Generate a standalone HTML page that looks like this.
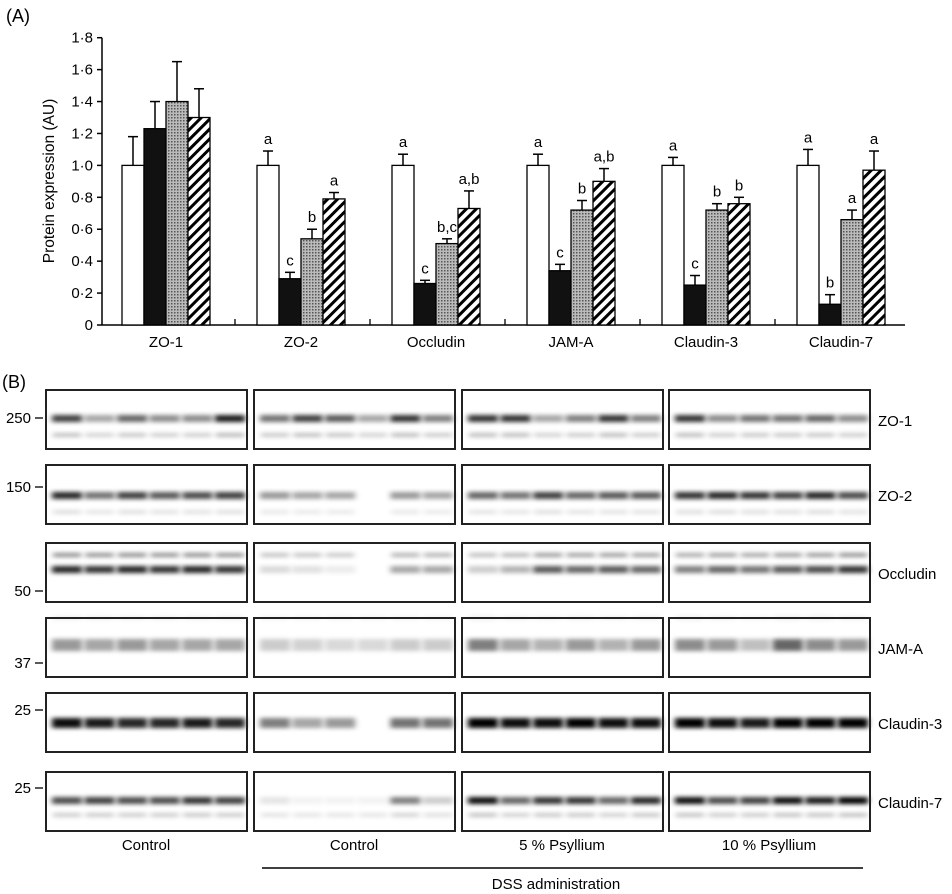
<!DOCTYPE html>
<html><head><meta charset="utf-8"><style>
body{margin:0;background:#fff;}
svg{display:block;font-family:"Liberation Sans",Arial,sans-serif;}
</style></head><body>
<svg id="fig" width="952" height="894" viewBox="0 0 952 894">
<defs>
<pattern id="dots" width="3" height="3" patternUnits="userSpaceOnUse"><rect width="3" height="3" fill="#bbb"/><rect width="1.5" height="1.5" fill="#555"/></pattern>
<pattern id="hatch" width="7" height="7" patternUnits="userSpaceOnUse" patternTransform="rotate(45)"><rect width="7" height="7" fill="#fff"/><rect width="3" height="7" fill="#000"/></pattern>
<filter id="blur" x="-30%" y="-150%" width="160%" height="400%"><feGaussianBlur stdDeviation="3 2.2"/></filter>
</defs>
<g id="chartA"></g>
<g id="blots"></g>
</svg>
<script>
const categories=["ZO-1","ZO-2","Occludin","JAM-A","Claudin-3","Claudin-7"];
const controlVals=[1.0,1.0,1.0,1.0,1.0,1.0];
const controlErr=[0.18,0.09,0.07,0.07,0.05,0.10];
const dssVals=[1.23,0.29,0.26,0.34,0.25,0.13];
const dssErr=[0.17,0.04,0.02,0.04,0.06,0.06];
const psy5Vals=[1.40,0.54,0.51,0.72,0.72,0.66];
const psy5Err=[0.25,0.06,0.03,0.06,0.04,0.06];
const psy10Vals=[1.30,0.79,0.73,0.90,0.76,0.97];
const psy10Err=[0.18,0.04,0.11,0.08,0.04,0.12];
const letters=[["","","",""],["a","c","b","a"],["a","c","b,c","a,b"],["a","c","b","a,b"],["a","c","b","b"],["a","b","a","a"]];
const yTicks=[0,0.2,0.4,0.6,0.8,1.0,1.2,1.4,1.6,1.8];
const yTickLabels=["0","0·2","0·4","0·6","0·8","1·0","1·2","1·4","1·6","1·8"];

const NS="http://www.w3.org/2000/svg";
function mk(tag,attrs,parent,text){const e=document.createElementNS(NS,tag);for(const k in attrs)e.setAttribute(k,attrs[k]);if(text!==undefined)e.textContent=text;parent.appendChild(e);return e;}
const y0=325,pxPer=(325-37.7)/1.8;
function yScale(v){return y0-v*pxPer;}
const bw=22,groupStep=135,firstCenter=133;
function xBar(g,s){return firstCenter-bw/2+g*groupStep+s*bw;}

const A=document.getElementById('chartA');
let t=mk('text',{x:6,y:22,'font-size':18},A,'(A)');


let ax=mk('line',{x1:102,y1:y0,x2:905,y2:y0,stroke:'#000','stroke-width':1.5},A);


let ay=mk('line',{x1:102,y1:y0,x2:102,y2:yScale(1.8),stroke:'#000','stroke-width':1.5},A);


yTicks.forEach((v,i)=>{
  mk('line',{x1:97,y1:yScale(v),x2:102,y2:yScale(v),stroke:'#000','stroke-width':1.5},A);
  let l=mk('text',{x:93,y:yScale(v)+5,'font-size':15,'text-anchor':'end'},A,yTickLabels[i]);
  
  
});
let yt=mk('text',{x:0,y:0,'font-size':15.5,'text-anchor':'middle',transform:'translate(54,181) rotate(-90)'},A,'Protein expression (AU)');


const series=[[controlVals,controlErr,'#fff'],[dssVals,dssErr,'#111'],[psy5Vals,psy5Err,'url(#dots)'],[psy10Vals,psy10Err,'url(#hatch)']];
categories.forEach((c,g)=>{
  if(g>0){mk('line',{x1:firstCenter-bw/2+g*groupStep-22,y1:y0,x2:firstCenter-bw/2+g*groupStep-22,y2:y0-6,stroke:'#000','stroke-width':1.3},A);}
  let cl=mk('text',{x:firstCenter-bw/2+g*groupStep+2*bw,y:347,'font-size':15,'text-anchor':'middle'},A,c);
  
  
  series.forEach((s,si)=>{
    const v=s[0][g],e=s[1][g],x=xBar(g,si);
    const top=yScale(v+e);
    mk('line',{x1:x+bw/2,y1:top,x2:x+bw/2,y2:yScale(v),stroke:'#000','stroke-width':1.5},A);
    mk('line',{x1:x+bw/2-5,y1:top,x2:x+bw/2+5,y2:top,stroke:'#000','stroke-width':1.5},A);
    let b=mk('rect',{x:x,y:yScale(v),width:bw,height:y0-yScale(v),fill:s[2],stroke:'#000','stroke-width':1.3},A);
    
    
    if(letters[g][si]){let lt=mk('text',{x:x+bw/2,y:top-7,'font-size':15,'text-anchor':'middle'},A,letters[g][si]);
      
      }
  });
});

// Blots
const rowTops=[390,465,543,618,693,772];
const rowLabels=["ZO-1","ZO-2","Occludin","JAM-A","Claudin-3","Claudin-7"];
const markers=[["250",418],["150",487],["50",591],["37",663],["25",710],["25",788]];
const panelX=[46,254,462,669];
const mainBand=[
[.75,.35,.6,.45,.45,.9, .55,.75,.65,.35,.8,.5, .8,.8,.35,.5,.8,.5, .8,.45,.55,.55,.6,.45],
[.85,.55,.75,.65,.7,.75, .4,.35,.35,0,.4,.35, .6,.55,.75,.6,.65,.65, .8,.85,.8,.75,.85,.7],
[.85,.8,.85,.8,.85,.8, .15,.12,.08,0,.35,.35, .2,.3,.65,.6,.65,.6, .5,.6,.55,.65,.7,.8],
[.4,.35,.4,.35,.35,.35, .2,.18,.15,.15,.2,.2, .5,.35,.3,.4,.3,.4, .45,.4,.25,.6,.45,.4],
[.95,.9,.85,.85,.9,.85, .5,.35,.4,0,.55,.55, 1,.95,.95,1,.95,.95, 1,.95,.9,1,1,1],
[.7,.75,.7,.7,.8,.75, .1,.05,.05,.05,.5,.2, .95,.6,.8,.8,.6,.85, .95,.7,.75,.95,.9,1]];
const bandY=[28,30,26,26,30,28];
const subBand=[.3,.15,.5,.1,0,.25];
const subY=[45,47,12,0,0,43];
const B=document.getElementById('blots');
let bl=mk('text',{x:2,y:388,'font-size':18},B,'(B)');


rowTops.forEach((ty,r)=>{
  panelX.forEach((px,p)=>{
    for(let l=0;l<6;l++){
      const li=p*6+l,v=mainBand[r][li];
      const cx=px+21+l*32.6;
      if(subBand[r]>0&&v>0){mk('rect',{x:cx-14,y:ty+subY[r]-2,width:28,height:4,fill:'#000','fill-opacity':subBand[r]*(0.4+0.6*v),filter:'url(#blur)'},B);}
      if(v>0){mk('rect',{x:cx-15,y:ty+bandY[r]-(r>=3&&r<5?5:3),width:30,height:(r===3?12:r===4?10:7),fill:'#000','fill-opacity':v,filter:'url(#blur)'},B);}
    }
    let f=mk('rect',{x:px,y:ty,width:201,height:59,fill:'none',stroke:'#222','stroke-width':2},B);
    
    
  });
  let rl=mk('text',{x:878,y:ty+36,'font-size':15},B,rowLabels[r]);
  
  
  mk('line',{x1:35,y1:markers[r][1],x2:43,y2:markers[r][1],stroke:'#000','stroke-width':1.3},B);
  let ml=mk('text',{x:31,y:markers[r][1]+5,'font-size':15,'text-anchor':'end'},B,markers[r][0]);
  
  
});
const groupNames=["Control","Control","5 % Psyllium","10 % Psyllium"];
panelX.forEach((px,i)=>{let g=mk('text',{x:px+100,y:850,'font-size':15,'text-anchor':'middle'},B,groupNames[i]);
  
  });
mk('line',{x1:262,y1:868,x2:863,y2:868,stroke:'#000','stroke-width':1.5},B);
let d=mk('text',{x:556,y:889,'font-size':15,'text-anchor':'middle'},B,'DSS administration');


</script>
</body></html>
